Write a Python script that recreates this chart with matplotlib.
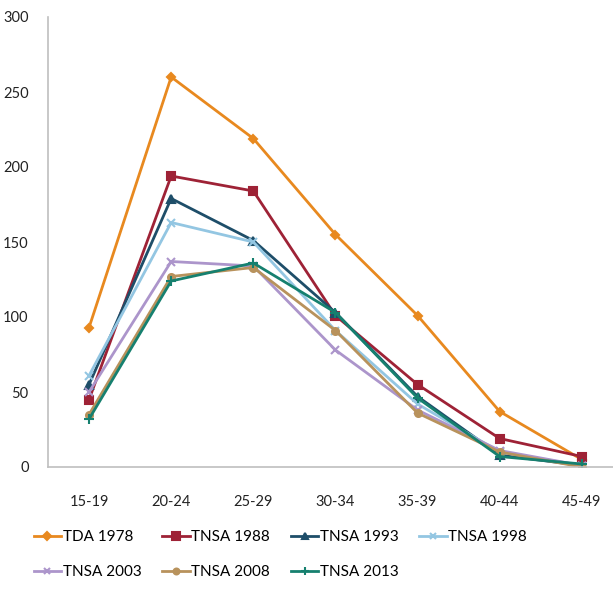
import matplotlib
matplotlib.use("Agg")
import matplotlib.pyplot as plt

age_groups = ["15-19", "20-24", "25-29", "30-34", "35-39", "40-44", "45-49"]

tda_1978 = [93, 260, 219, 155, 101, 37, 5]
tnsa_1988 = [45, 194, 184, 101, 55, 19, 7]
tnsa_1993 = [55, 179, 151, 103, 47, 8, 1]
tnsa_1998 = [61, 163, 150, 91, 42, 10, 1]
tnsa_2003 = [50, 137, 134, 78, 38, 11, 1]
tnsa_2008 = [35, 127, 133, 91, 36, 10, 0]
tnsa_2013 = [32, 124, 136, 103, 46, 7, 2]

series_names = ["TDA 1978", "TNSA 1988", "TNSA 1993", "TNSA 1998",
                "TNSA 2003", "TNSA 2008", "TNSA 2013"]
series_values = [tda_1978, tnsa_1988, tnsa_1993, tnsa_1998,
                 tnsa_2003, tnsa_2008, tnsa_2013]
colors = ["#E8891F", "#9E2236", "#1E4E69", "#93C6E2",
          "#AC95CB", "#B8925C", "#16806F"]
markers = ["D", "s", "^", "x", "x", "o", "+"]
msizes = [4.5, 6, 5.5, 5.5, 5.5, 5, 6.5]

plt.rcParams["font.family"] = ["Lato", "DejaVu Sans"]

fig = plt.figure(figsize=(6.13, 5.89), dpi=100)
ax = fig.add_axes([48 / 613, 1 - 467 / 589, 1 - 48 / 613, (467 - 17) / 589])

x = list(range(len(age_groups)))
handles = []
for name, vals, c, m, ms in zip(series_names, series_values, colors, markers, msizes):
    h, = ax.plot(x, vals, color=c, marker=m, markersize=ms, linewidth=2.0,
                 markeredgewidth=1.5, label=name)
    handles.append(h)

ax.set_xlim(-0.5, 6.38)
ax.set_ylim(0, 300)
ax.set_yticks([0, 50, 100, 150, 200, 250, 300])
ax.set_xticks(x)
ax.set_xticklabels(age_groups)
ax.tick_params(axis="both", length=0, labelsize=10.5, colors="#222222")
ax.tick_params(axis="x", pad=20)
ax.tick_params(axis="y", pad=14)

for side in ["top", "right"]:
    ax.spines[side].set_visible(False)
for side in ["left", "bottom"]:
    ax.spines[side].set_color("#BFBFBF")
    ax.spines[side].set_linewidth(1.2)

# legend is filled column by column, so interleave to read row by row
order = [0, 4, 1, 5, 2, 6, 3]
fig.legend(handles=[handles[i] for i in order], loc="lower left",
           bbox_to_anchor=(0.045, 0.006, 0.825, 0.1), mode="expand",
           ncol=4, frameon=False, fontsize=11, handlelength=1.8,
           handletextpad=0.1, labelspacing=1.4, markerscale=0.85,
           borderaxespad=0.0)

fig.savefig("out.png", dpi=100)
